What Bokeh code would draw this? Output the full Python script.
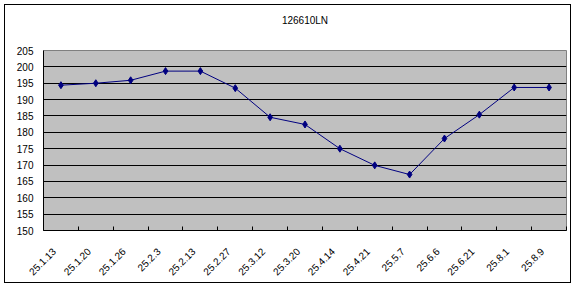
from math import pi
from bokeh.plotting import figure
from bokeh.models import (Range1d, LinearAxis, FixedTicker, Grid, ColumnDataSource,
                          InlineStyleSheet)
from bokeh.embed import file_html
from bokeh.resources import INLINE

title_text = "126610LN"
dates = ["25.1.13", "25.1.20", "25.1.26", "25.2.3", "25.2.13", "25.2.27", "25.3.12",
         "25.3.20", "25.4.14", "25.4.21", "25.5.7", "25.6.6", "25.6.21", "25.8.1", "25.8.9"]
prices = [194.4, 195.0, 195.9, 198.7, 198.7, 193.5, 184.6, 182.4, 175.0, 169.9,
          167.1, 178.1, 185.4, 193.7, 193.7]
y_ticks = list(range(150, 206, 5))

xs = [i + 0.5 for i in range(len(dates))]
bounds = list(range(len(dates) + 1))
label_shift = -0.2   # nudge rotated labels so their ends sit left of the centre
label_pos = [x + label_shift for x in xs]
src = ColumnDataSource(dict(x=xs, y=prices))

p = figure(width=578, height=288, output_backend="svg", toolbar_location=None,
           x_range=Range1d(0, len(dates)), y_range=Range1d(150, 205),
           x_axis_type=None, y_axis_type=None,
           min_border_left=43, min_border_right=12, min_border_top=50, min_border_bottom=58,
           title=title_text)
p.title.align = "center"
p.title.text_font = "Liberation Sans"
p.title.text_font_size = "10px"
p.title.text_font_style = "normal"
p.title.text_color = "black"
p.title.padding = dict(top=0, right=0, bottom=20, left=0)

p.background_fill_color = "#C0C0C0"
p.border_fill_color = "white"
p.outline_line_color = "#808080"
p.stylesheets = [InlineStyleSheet(css=(
    ":host::after { content: ''; position: absolute; left: 4px; top: 4px; "
    "width: 567px; height: 279px; border: 1px solid black; box-sizing: border-box; "
    "pointer-events: none; z-index: 100; }"))]

# y axis
yax = LinearAxis(ticker=FixedTicker(ticks=y_ticks))
yax.major_tick_in = 0
yax.major_tick_out = 0
yax.minor_tick_line_color = None
yax.axis_line_color = "black"
yax.major_label_text_font = "Liberation Sans"
yax.major_label_text_font_size = "10px"
yax.major_label_text_color = "black"
yax.major_label_standoff = 10
p.add_layout(yax, "left")

# x axis: labels near category centres, tick marks at category boundaries
xl = LinearAxis(ticker=FixedTicker(ticks=label_pos, minor_ticks=bounds))
xl.major_label_overrides = {x: d for x, d in zip(label_pos, dates)}
xl.major_tick_in = 0
xl.major_tick_out = 0
xl.minor_tick_in = 4
xl.minor_tick_out = 0
xl.minor_tick_line_color = "black"
xl.axis_line_color = "black"
xl.major_label_orientation = pi / 4
xl.major_label_text_font = "Liberation Sans"
xl.major_label_text_font_size = "10px"
xl.major_label_text_color = "black"
xl.major_label_standoff = 19
p.add_layout(xl, "below")

p.add_layout(Grid(dimension=1, ticker=FixedTicker(ticks=y_ticks),
                  grid_line_color="black", grid_line_width=1))

p.line("x", "y", source=src, line_color="#000080", line_width=1)
p.scatter("x", "y", source=src, marker="diamond", size=7, fill_color="#000080",
          line_color="#000080")

open("out.html", "w").write(file_html(p, INLINE))
